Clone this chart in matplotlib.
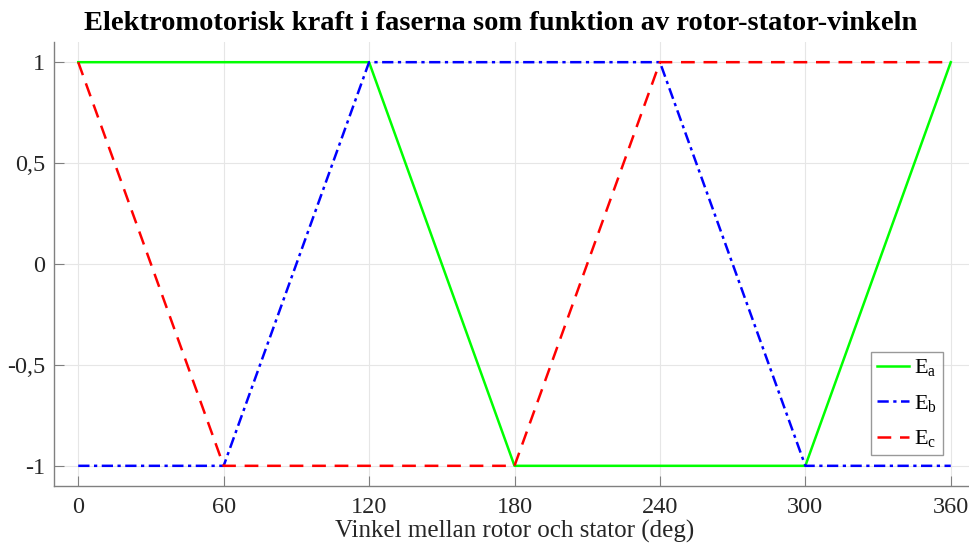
import matplotlib
matplotlib.use("Agg")
import matplotlib.pyplot as plt
import matplotlib.ticker as mticker

plt.rcParams["font.family"] = ["Liberation Serif", "DejaVu Serif"]
plt.rcParams["mathtext.fontset"] = "custom"
plt.rcParams["mathtext.rm"] = "Liberation Serif"
plt.rcParams["mathtext.it"] = "Liberation Serif:italic"

# phase EMF breakpoints (angle in degrees, normalised value)
ANG_A = [0, 120, 180, 300, 360]
EMF_A = [1, 1, -1, -1, 1]
ANG_B = [0, 60, 120, 240, 300, 360]
EMF_B = [-1, -1, 1, 1, -1, -1]
ANG_C = [0, 60, 180, 240, 360]
EMF_C = [1, -1, -1, 1, 1]

X_TICKS = [0, 60, 120, 180, 240, 300, 360]
Y_TICKS = [-1, -0.5, 0, 0.5, 1]

fig = plt.figure(figsize=(9.69, 5.49), dpi=100)
ax = fig.add_axes([54 / 969, 1 - 486 / 549, (975 - 54) / 969, (486 - 42) / 549])

ax.plot(ANG_A, EMF_A, color="#00ff00", lw=1.8, ls="-", label=r"E$_{\mathrm{a}}$")
ax.plot(ANG_B, EMF_B, color="#0000ff", lw=1.8, ls=(0, (4.5, 1.8, 1.3, 1.8)), label=r"E$_{\mathrm{b}}$")
ax.plot(ANG_C, EMF_C, color="#ff0000", lw=1.8, ls=(0, (5.5, 3.5)), label=r"E$_{\mathrm{c}}$")

ax.set_xlim(-10, 370)
ax.set_ylim(-1.1, 1.1)
ax.set_xticks(X_TICKS)
ax.set_yticks(Y_TICKS)
ax.yaxis.set_major_formatter(
    mticker.FuncFormatter(lambda v, _: f"{v:g}".replace(".", ","))
)

ax.grid(True, color="#e6e6e6", lw=0.8)
ax.set_axisbelow(True)
ax.spines[["top", "right"]].set_visible(False)
for side in ("left", "bottom"):
    ax.spines[side].set_color("#808080")
    ax.spines[side].set_linewidth(1.0)
ax.tick_params(direction="in", length=7, color="#808080", labelcolor="#262626",
               labelsize=17.5)
ax.tick_params(axis="y", pad=6.5)
ax.tick_params(axis="x", pad=8)

ax.set_xlabel("Vinkel mellan rotor och stator (deg)", fontsize=18, color="#262626",
              labelpad=1.5)
fig.text(0.5166, 0.958, "Elektromotorisk kraft i faserna som funktion av rotor-stator-vinkeln",
         ha="center", va="center", fontsize=20.5, fontweight="bold")

leg = ax.legend(loc="lower right", bbox_to_anchor=(0.965, 0.07), fontsize=16,
                frameon=True, fancybox=False, edgecolor="#808080",
                handlelength=1.45, handletextpad=0.25, borderpad=0.25,
                labelspacing=0.65, borderaxespad=0)
leg.get_frame().set_linewidth(1.0)

fig.savefig("out.png", dpi=100)
